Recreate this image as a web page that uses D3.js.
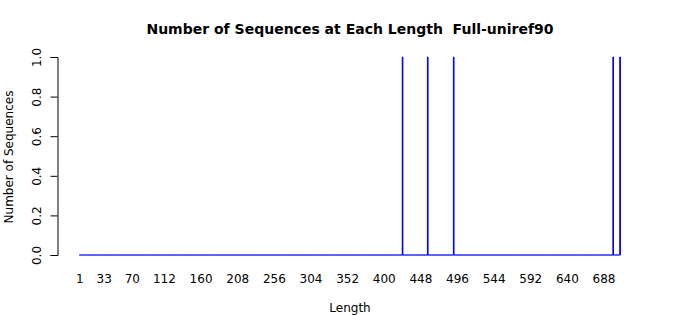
<!DOCTYPE html>
<html>
<head>
<meta charset="utf-8">
<script src="https://cdn.jsdelivr.net/npm/d3@7"></script>
<style>
  body { margin: 0; background: #fff; }
  text { font-family: "DejaVu Sans", sans-serif; fill: #000; }
</style>
</head>
<body>
<div id="main"></div>
<script>
const WIDTH = 700;
const HEIGHT = 315;
const PLOT = { left: 79.4, right: 620.4, top: 57, bottom: 255 };

// sequence lengths that occur, and how many sequences have each
const maxLength = 709;
const seqLengths = [424, 457, 491, 700, 709];
const seqCounts = [1, 1, 1, 1, 1];

// labels that R managed to print under the bars
const xTickLabels = [1, 33, 70, 112, 160, 208, 256, 304, 352, 400, 448, 496, 544, 592, 640, 688];
const yTicks = [0, 0.2, 0.4, 0.6, 0.8, 1.0];

const TITLE = "Number of Sequences at Each Length  Full-uniref90";

// full table of lengths 1..maxLength, zero where nothing was seen
const table = d3.range(1, maxLength + 1).map(len => {
  const i = seqLengths.indexOf(len);
  return { len, count: i >= 0 ? seqCounts[i] : 0 };
});

const svg = d3.select("#main")
  .append("svg")
  .attr("width", WIDTH)
  .attr("height", HEIGHT)
  .attr("viewBox", [0, 0, WIDTH, HEIGHT]);

const x = d3.scaleBand()
  .domain(table.map(d => d.len))
  .range([PLOT.left, PLOT.right])
  .paddingInner(0.2 / 1.2)
  .paddingOuter(0);

const y = d3.scaleLinear().domain([0, 1]).range([PLOT.bottom, PLOT.top]);

// bars as outlined paths so zero bars still show as the blue baseline
function barPath(d) {
  const x0 = x(d.len), x1 = x0 + x.bandwidth();
  const y0 = y(0), y1 = y(d.count);
  return `M${x0},${y0}H${x1}V${y1}H${x0}Z`;
}

svg.append("g")
  .selectAll("path")
  .data(table)
  .join("path")
  .attr("d", barPath)
  .attr("fill", "blue")
  .attr("stroke", "blue")
  .attr("stroke-width", 1);

// y axis
const yAxis = svg.append("g")
  .attr("transform", "translate(57.5,0)")
  .call(d3.axisLeft(y).tickValues(yTicks).tickFormat(d3.format(".1f")).tickSizeOuter(0).tickSize(7));
yAxis.select(".domain").attr("stroke", "#000");
yAxis.selectAll(".tick line").attr("stroke", "#000");
yAxis.selectAll(".tick text")
  .attr("font-size", 12)
  .attr("x", null).attr("dy", null)
  .attr("text-anchor", "middle")
  .attr("transform", "translate(-21,0) rotate(-90)")
  .attr("dominant-baseline", "central");

// x labels (no axis line)
svg.append("g")
  .selectAll("text")
  .data(xTickLabels)
  .join("text")
  .attr("x", d => x(d) + x.bandwidth() / 2)
  .attr("y", 279)
  .attr("text-anchor", "middle")
  .attr("dominant-baseline", "central")
  .attr("font-size", 12)
  .text(d => d);

// titles
svg.append("text")
  .attr("x", 350).attr("y", 29)
  .attr("text-anchor", "middle")
  .attr("dominant-baseline", "central")
  .attr("font-size", 14)
  .attr("font-weight", "bold")
  .style("white-space", "pre")
  .text(TITLE);

svg.append("text")
  .attr("x", 350).attr("y", 308)
  .attr("text-anchor", "middle")
  .attr("dominant-baseline", "central")
  .attr("font-size", 12)
  .text("Length");

svg.append("text")
  .attr("transform", "translate(9,157) rotate(-90)")
  .attr("text-anchor", "middle")
  .attr("dominant-baseline", "central")
  .attr("font-size", 12)
  .text("Number of Sequences");
</script>
</body>
</html>
